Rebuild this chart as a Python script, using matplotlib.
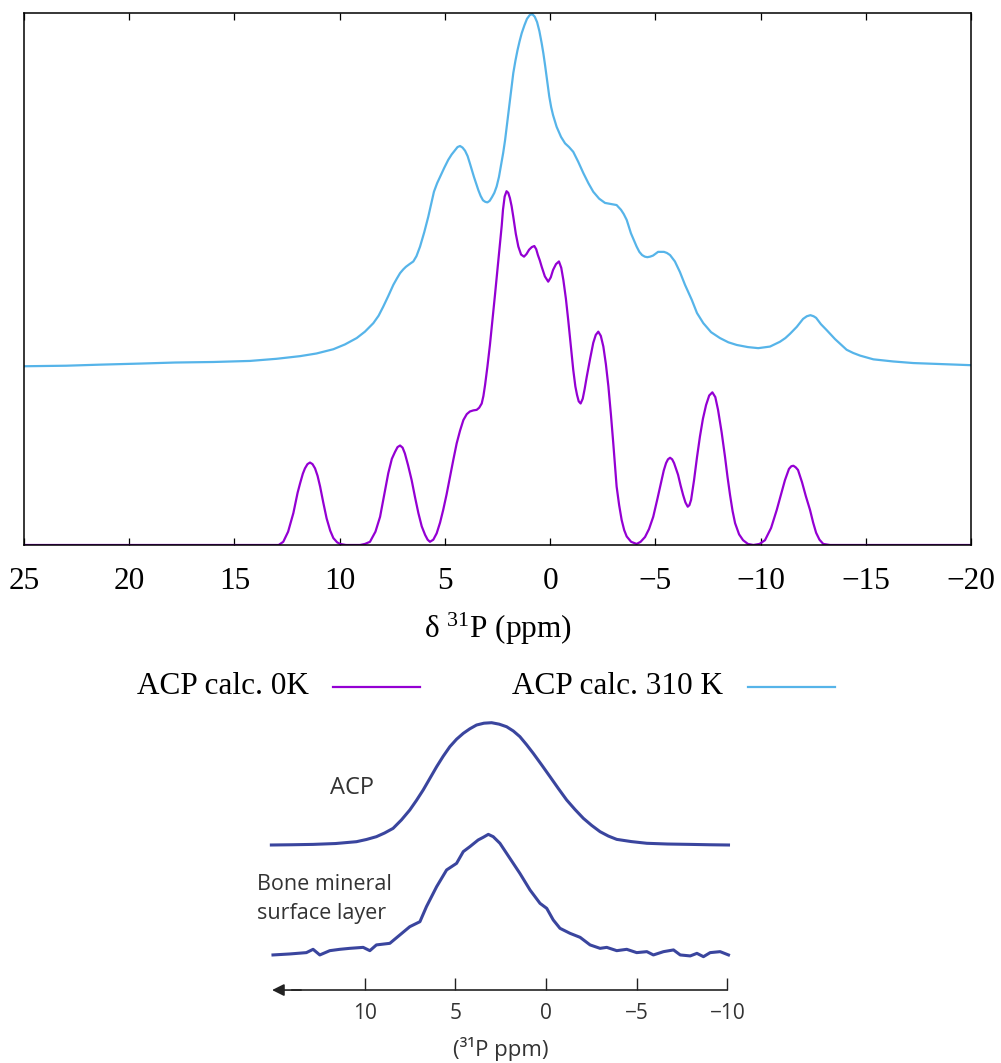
import matplotlib
matplotlib.use("Agg")
import matplotlib.pyplot as plt
from matplotlib.lines import Line2D

# --- calculated spectra (ppm, normalised intensity) ---
shift_0k = [25.0, 12.9, 12.68, 12.45, 12.20, 12.0, 11.88, 11.75, 11.65, 11.53, 11.41, 11.29,
            11.17, 11.05, 10.93, 10.78, 10.62, 10.45, 10.30, 10.12, 9.98, 9.7,
            9.03, 8.80, 8.56, 8.30, 8.08, 7.88, 7.69, 7.52, 7.37, 7.25, 7.13, 7.01, 6.90,
            6.75, 6.58, 6.42, 6.26, 6.10, 5.94, 5.82, 5.71, 5.55, 5.39, 5.23, 5.08, 4.92,
            4.76, 4.60, 4.44, 4.28, 4.12, 3.96, 3.81, 3.65, 3.49, 3.37, 3.25, 3.17, 3.09,
            2.98, 2.86, 2.74, 2.62, 2.50, 2.38, 2.30, 2.24, 2.16, 2.07, 1.99, 1.91, 1.83,
            1.75, 1.63, 1.51, 1.38, 1.24, 1.12, 1.00, 0.87, 0.75, 0.66, 0.58, 0.49, 0.40,
            0.25, 0.09, -0.03, -0.14, -0.28, -0.42, -0.53, -0.63, -0.75, -0.86, -0.98,
            -1.10, -1.20, -1.28, -1.36, -1.45, -1.55, -1.64, -1.74, -1.90, -2.05, -2.17,
            -2.29, -2.41, -2.53, -2.65, -2.77, -2.89, -3.00, -3.08, -3.16, -3.28, -3.40,
            -3.52, -3.64, -3.85, -4.11, -4.30, -4.51, -4.70, -4.90, -5.10, -5.30, -5.40,
            -5.51, -5.60, -5.70, -5.80, -5.89, -6.08, -6.20, -6.32, -6.43, -6.54, -6.62,
            -6.70, -6.84, -6.98, -7.12, -7.26, -7.41, -7.56, -7.71, -7.85, -7.98, -8.15,
            -8.31, -8.43, -8.55, -8.67, -8.79, -8.98, -9.17, -9.40, -9.66, -9.95, -10.21,
            -10.50, -10.77, -10.97, -11.16, -11.35, -11.46, -11.56, -11.67, -11.78,
            -11.97, -12.15, -12.35, -12.50, -12.64, -12.80, -12.98, -13.3, -20.0]
int_0k = [0.0, 0.0, 0.006, 0.025, 0.060, 0.098, 0.116, 0.134, 0.144, 0.152, 0.155, 0.152,
          0.144, 0.130, 0.110, 0.080, 0.050, 0.027, 0.013, 0.005, 0.002, 0.0,
          0.0, 0.002, 0.006, 0.025, 0.053, 0.095, 0.135, 0.162, 0.175, 0.184, 0.187,
          0.183, 0.172, 0.150, 0.122, 0.090, 0.060, 0.035, 0.019, 0.010, 0.006, 0.010,
          0.022, 0.042, 0.066, 0.095, 0.128, 0.160, 0.191, 0.215, 0.235, 0.246, 0.251,
          0.253, 0.254, 0.258, 0.266, 0.280, 0.301, 0.335, 0.376, 0.422, 0.470, 0.518,
          0.564, 0.600, 0.630, 0.655, 0.665, 0.662, 0.652, 0.637, 0.617, 0.585, 0.561,
          0.546, 0.542, 0.547, 0.555, 0.560, 0.562, 0.556, 0.545, 0.535, 0.523, 0.505,
          0.495, 0.503, 0.517, 0.528, 0.533, 0.521, 0.498, 0.463, 0.423, 0.376, 0.329,
          0.298, 0.282, 0.270, 0.266, 0.275, 0.293, 0.316, 0.350, 0.380, 0.395, 0.401,
          0.393, 0.373, 0.340, 0.298, 0.245, 0.192, 0.150, 0.110, 0.075, 0.047, 0.028,
          0.016, 0.006, 0.002, 0.006, 0.015, 0.030, 0.053, 0.087, 0.122, 0.140, 0.154,
          0.161, 0.164, 0.161, 0.154, 0.132, 0.112, 0.094, 0.080, 0.072, 0.075, 0.085,
          0.122, 0.165, 0.204, 0.237, 0.263, 0.281, 0.287, 0.278, 0.254, 0.212, 0.166,
          0.128, 0.094, 0.064, 0.041, 0.020, 0.009, 0.002, 0.0, 0.002, 0.009, 0.032,
          0.066, 0.095, 0.122, 0.143, 0.148, 0.149, 0.146, 0.141, 0.118, 0.092, 0.066,
          0.042, 0.023, 0.010, 0.002, 0.0, 0.0]

shift_310k = [25.0, 23.0, 21.39, 19.5, 17.82, 16.0, 14.26, 13.0, 11.88, 11.1, 10.30, 9.75,
              9.19, 8.80, 8.40, 8.15, 7.93, 7.69, 7.45, 7.28, 7.13, 6.98, 6.85, 6.68, 6.50,
              6.35, 6.18, 5.98, 5.79, 5.65, 5.52, 5.37, 5.23, 5.03, 4.84, 4.68, 4.52, 4.40,
              4.28, 4.16, 4.04, 3.92, 3.81, 3.62, 3.41, 3.30, 3.19, 3.08, 2.98, 2.87, 2.76,
              2.65, 2.54, 2.43, 2.33, 2.23, 2.14, 2.05, 1.95, 1.85, 1.75, 1.65, 1.55, 1.45,
              1.35, 1.22, 1.10, 0.97, 0.85, 0.73, 0.62, 0.51, 0.40, 0.32, 0.24, 0.14, 0.04,
              -0.05, -0.14, -0.31, -0.52, -0.71, -0.90, -1.10, -1.34, -1.58, -1.82, -2.05,
              -2.33, -2.61, -2.89, -3.16, -3.37, -3.50, -3.64, -3.84, -4.11, -4.24, -4.37,
              -4.50, -4.62, -4.75, -4.89, -5.13, -5.41, -5.55, -5.70, -5.93, -6.17, -6.41,
              -6.73, -6.98, -7.28, -7.65, -8.07, -8.47, -8.87, -9.40, -9.89, -10.45, -10.92,
              -11.18, -11.40, -11.72, -12.02, -12.20, -12.37, -12.52, -12.64, -12.87,
              -13.14, -13.54, -14.09, -14.40, -14.73, -15.36, -16.3, -17.26, -18.6, -20.0]
int_310k = [0.336, 0.337, 0.339, 0.341, 0.343, 0.344, 0.346, 0.350, 0.355, 0.360, 0.368,
            0.377, 0.389, 0.401, 0.417, 0.431, 0.448, 0.468, 0.489, 0.501, 0.511, 0.518,
            0.523, 0.528, 0.533, 0.543, 0.561, 0.588, 0.617, 0.641, 0.664, 0.680, 0.692,
            0.709, 0.724, 0.734, 0.742, 0.748, 0.750, 0.747, 0.741, 0.731, 0.717, 0.692,
            0.667, 0.656, 0.648, 0.645, 0.644, 0.647, 0.654, 0.662, 0.674, 0.692, 0.714,
            0.737, 0.761, 0.790, 0.823, 0.856, 0.887, 0.910, 0.930, 0.947, 0.962, 0.977,
            0.989, 0.996, 0.998, 0.993, 0.983, 0.966, 0.943, 0.924, 0.902, 0.872, 0.843,
            0.823, 0.808, 0.786, 0.767, 0.755, 0.748, 0.739, 0.720, 0.699, 0.680, 0.664,
            0.651, 0.643, 0.641, 0.639, 0.630, 0.622, 0.611, 0.586, 0.561, 0.551, 0.545,
            0.542, 0.541, 0.542, 0.544, 0.551, 0.551, 0.549, 0.545, 0.533, 0.513, 0.489,
            0.461, 0.436, 0.417, 0.400, 0.389, 0.381, 0.376, 0.372, 0.370, 0.373, 0.382,
            0.389, 0.397, 0.410, 0.425, 0.430, 0.432, 0.430, 0.427, 0.415, 0.404, 0.387,
            0.367, 0.361, 0.356, 0.349, 0.345, 0.342, 0.340, 0.338]

# --- experimental spectra (inset) ---
shift_acp = [15.14, 14.0, 12.84, 11.6, 10.45, 9.90, 9.35, 8.90, 8.43, 7.97, 7.51, 7.14,
             6.77, 6.40, 6.03, 5.67, 5.30, 4.93, 4.56, 4.20, 3.83, 3.42, 3.00, 2.58, 2.17,
             1.80, 1.44, 1.07, 0.70, 0.24, -0.22, -0.68, -1.14, -1.60, -2.06, -2.52,
             -2.98, -3.44, -3.90, -4.70, -5.56, -6.70, -7.95, -9.00, -10.06]
int_acp = [0.0, 0.002, 0.005, 0.012, 0.027, 0.045, 0.068, 0.098, 0.136, 0.205, 0.286,
           0.365, 0.450, 0.545, 0.640, 0.725, 0.804, 0.865, 0.913, 0.950, 0.981, 0.996,
           1.0, 0.988, 0.967, 0.932, 0.886, 0.820, 0.749, 0.655, 0.559, 0.462, 0.368,
           0.290, 0.218, 0.160, 0.109, 0.073, 0.046, 0.028, 0.014, 0.008, 0.005, 0.002,
           0.0]

shift_bone = [15.05, 14.13, 13.21, 12.84, 12.47, 11.92, 11.37, 10.82, 10.08, 9.71, 9.35,
              8.61, 8.06, 7.51, 6.95, 6.59, 6.03, 5.48, 4.93, 4.56, 4.20, 3.74, 3.46, 3.18,
              2.91, 2.54, 1.99, 1.44, 0.88, 0.33, -0.04, -0.40, -0.77, -1.32, -1.88, -2.43,
              -2.98, -3.35, -3.90, -4.45, -5.00, -5.56, -5.92, -6.48, -7.03, -7.40, -7.95,
              -8.32, -8.68, -9.05, -9.60, -10.06]
int_bone = [-0.008, 0.0, 0.011, 0.038, -0.008, 0.027, 0.038, 0.046, 0.054, 0.027, 0.074,
            0.087, 0.155, 0.223, 0.264, 0.387, 0.550, 0.687, 0.741, 0.837, 0.877, 0.932,
            0.954, 0.978, 0.959, 0.905, 0.782, 0.659, 0.523, 0.414, 0.373, 0.278, 0.210,
            0.169, 0.136, 0.074, 0.046, 0.054, 0.027, 0.038, 0.011, 0.019, -0.008, 0.019,
            0.033, -0.008, -0.016, 0.005, -0.022, 0.011, 0.019, -0.008]

top_ticks = [25, 20, 15, 10, 5, 0, -5, -10, -15, -20]
inset_ticks = [10, 5, 0, -5, -10]

PURPLE = '#9400D3'
SKY = '#56B4E9'
NAVY = '#3a459e'
INK = '#333333'

plt.rcParams['font.family'] = 'Liberation Serif'
plt.rcParams['mathtext.default'] = 'regular'

W, H = 1001, 1063
fig = plt.figure(figsize=(W / 100, H / 100), dpi=100)

# ---- calculated spectra ----
ax = fig.add_axes([24 / W, 1 - 545 / H, (971 - 24) / W, (545 - 13) / H])
ax.plot(shift_310k, int_310k, color=SKY, lw=1.6, solid_joinstyle='round')
ax.plot(shift_0k, int_0k, color=PURPLE, lw=1.6, solid_joinstyle='round')
ax.set_xlim(25, -20)
ax.set_ylim(0, 1)
ax.set_xticks(top_ticks)
ax.set_yticks([])
ax.tick_params(axis='x', direction='in', length=5, width=0.9, top=True,
               labelsize=22.5, pad=15.5)
for s in ax.spines.values():
    s.set_linewidth(1.1)
ax.set_xlabel(r'δ $^{31}$P (ppm)', fontsize=22.5, labelpad=11)

# legend, gnuplot style (text then sample)
ly = 1 - 687 / H
fig.text(137 / W, ly, 'ACP calc. 0K', fontsize=22.5, ha='left', va='center')
fig.add_artist(Line2D([333 / W, 420 / W], [ly, ly], color=PURPLE, lw=1.6))
fig.text(512 / W, ly, 'ACP calc. 310 K', fontsize=22.5, ha='left', va='center')
fig.add_artist(Line2D([748 / W, 835 / W], [ly, ly], color=SKY, lw=1.6))

# ---- experimental inset ----
x0 = 546 - 16 * 18.14
x1 = 546 + 11 * 18.14
y_lo = 845 + 1.5 * 122.3
y_hi = 845 - 1.2 * 122.3
ax2 = fig.add_axes([x0 / W, 1 - y_lo / H, (x1 - x0) / W, (y_lo - y_hi) / H])
bone_offset = -0.891
axis_y = -1.186
ax2.plot(shift_acp, int_acp, color=NAVY, lw=2.2, solid_joinstyle='round')
ax2.plot(shift_bone, [v + bone_offset for v in int_bone], color=NAVY, lw=2.2,
         solid_joinstyle='round')
ax2.set_xlim(16, -11)
ax2.set_ylim(-1.5, 1.2)
for side in ['top', 'left', 'right']:
    ax2.spines[side].set_visible(False)
ax2.spines['bottom'].set_position(('data', axis_y))
ax2.spines['bottom'].set_bounds(-10, 14)
ax2.spines['bottom'].set_color('#222222')
ax2.spines['bottom'].set_linewidth(1.2)
ax2.annotate('', xy=(15.1, axis_y), xytext=(13.5, axis_y),
             arrowprops=dict(arrowstyle='-|>', color='#222222', lw=1.2,
                             mutation_scale=18, shrinkA=0, shrinkB=0))
ax2.set_yticks([])
ax2.set_xticks(inset_ticks)
ax2.set_xticklabels(['10', '5', '0', '\u22125', '\u221210'])
ax2.tick_params(axis='x', direction='in', length=9, width=1.0, color='#222222',
                labelsize=15, labelcolor=INK, pad=9)
for lab in ax2.get_xticklabels():
    lab.set_family('Open Sans')
ax2.set_xlabel('(³¹P ppm)', fontsize=16, color=INK, family='Open Sans', labelpad=10)
ax2.text(10.67, 0.466, 'ACP', fontsize=17, color=INK, family='Open Sans',
         ha='center', va='center')
ax2.text(15.95, -0.44, 'Bone mineral\nsurface layer', fontsize=15.5, color=INK,
         family='Open Sans', ha='left', va='center', linespacing=1.5)

fig.savefig('out.png', dpi=100)
